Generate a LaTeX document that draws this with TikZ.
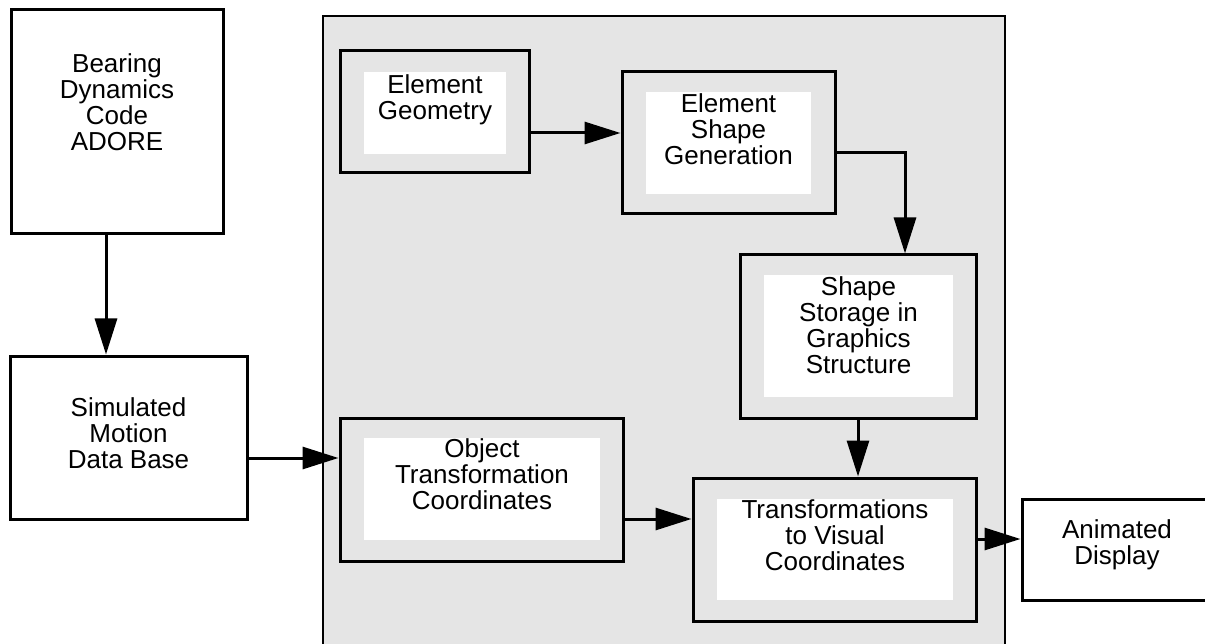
\documentclass[tikz,border=0pt]{standalone}
\usepackage{fontspec}
\setmainfont{Liberation Sans}
\usetikzlibrary{arrows.meta}
\definecolor{panelgray}{gray}{0.9}

\begin{document}
\begin{tikzpicture}[x=1pt,y=-1pt,
    blockframe/.style={draw,line width=3pt,inner sep=0pt},
    whitebox/.style={fill=white,inner sep=0pt},
    boxtext/.style={anchor=north,align=center,inner sep=0pt,font=\fontsize{26}{26.3}\selectfont},
    flow/.style={line width=3pt,-{Triangle[length=36pt,width=22pt]}}]
    \useasboundingbox (0,0) rectangle (1205,644);

    % processing panel
    \node[draw,line width=2pt,fill=panelgray,inner sep=0pt,minimum width=682pt,minimum height=650pt] (panel) at (664,341) {};

    % outside blocks
    \node[blockframe,minimum width=212pt,minimum height=224pt] (adore) at (117,122) {};
    \node[boxtext] (adoretext) at (117,53) {Bearing\\Dynamics\\Code\\ADORE};
    \node[blockframe,minimum width=237pt,minimum height=163pt] (sim) at (128.5,437.5) {};
    \node[boxtext] (simtext) at (128.5,397) {Simulated\\Motion\\Data Base};
    \node[blockframe,minimum width=220pt,minimum height=101pt] (anim) at (1132,549.5) {};
    \node[boxtext] (animtext) at (1117,519) {Animated\\Display};

    % blocks in the panel
    \node[blockframe,minimum width=189pt,minimum height=122pt] (geom) at (434.5,112) {};
    \node[whitebox,minimum width=142pt,minimum height=82pt] (geomwhite) at (435,113) {};
    \node[boxtext] (geomtext) at (435,74) {Element\\Geometry};

    \node[blockframe,minimum width=213pt,minimum height=142pt] (shapegen) at (728.5,143) {};
    \node[whitebox,minimum width=165pt,minimum height=102pt] (shapegenwhite) at (728.5,143) {};
    \node[boxtext] (shapegentext) at (728.5,93) {Element\\Shape\\Generation};

    \node[blockframe,minimum width=236pt,minimum height=163pt] (storage) at (858,336.5) {};
    \node[whitebox,minimum width=189pt,minimum height=122pt] (storagewhite) at (858.5,336) {};
    \node[boxtext] (storagetext) at (858.5,276) {Shape\\Storage in\\Graphics\\Structure};

    \node[blockframe,minimum width=283pt,minimum height=143pt] (obj) at (481.5,489.5) {};
    \node[whitebox,minimum width=236pt,minimum height=102pt] (objwhite) at (482,489) {};
    \node[boxtext] (objtext) at (482,438) {Object\\Transformation\\Coordinates};

    \node[blockframe,minimum width=283pt,minimum height=143pt] (transf) at (834.5,549.5) {};
    \node[whitebox,minimum width=236pt,minimum height=101pt] (transfwhite) at (835,549.5) {};
    \node[boxtext] (transftext) at (835,499) {Transformations\\to Visual\\Coordinates};

    % arrows
    \draw[flow] ([xshift=-11pt]adore.south) -- ([xshift=-22.5pt]sim.north);
    \draw[flow] (sim.east |- 0,458) -- (obj.west |- 0,458);
    \draw[flow] (geom.east |- 0,133) -- (shapegen.west |- 0,133);
    \draw[flow] (shapegen.east |- 0,153) -| (storage.north -| 905,0);
    \draw[flow] (storage.south) -- (storage.south |- transf.north);
    \draw[flow] (obj.east |- 0,519) -- (transf.west |- 0,519);
    \draw[flow] (transf.east |- 0,539) -- (anim.west |- 0,539);
\end{tikzpicture}
\end{document}
